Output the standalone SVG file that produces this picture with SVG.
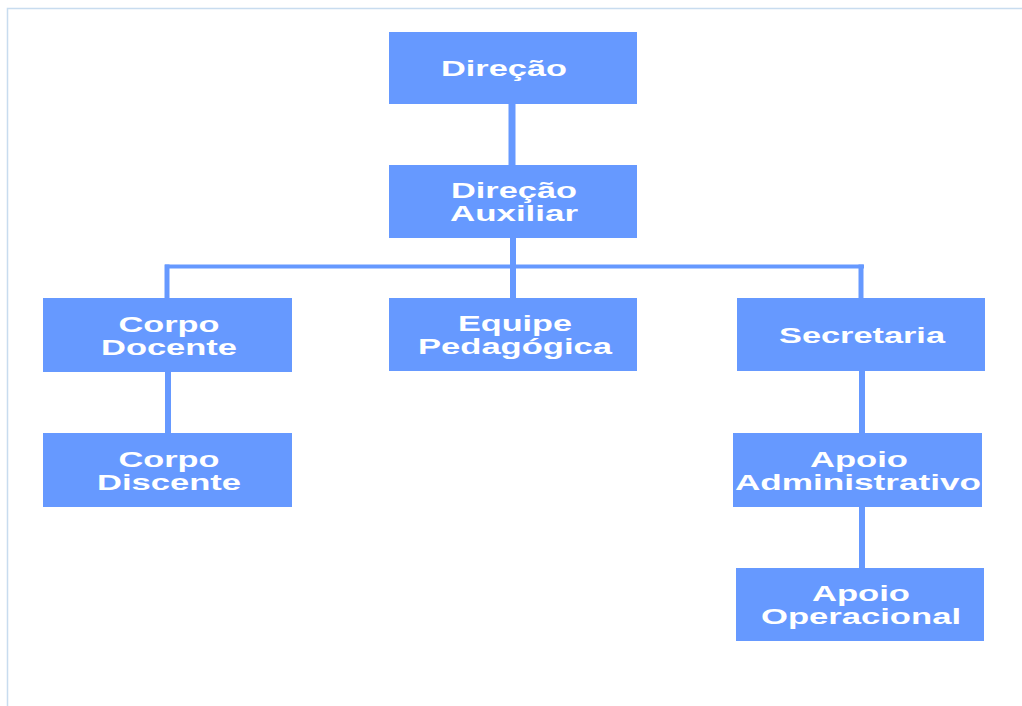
<svg xmlns="http://www.w3.org/2000/svg" width="1022" height="706" viewBox="0 0 1022 706">
<style>
.box{fill:#6699ff;}
.lbl{font-family:"Liberation Sans",Arial,sans-serif;font-weight:bold;font-size:22.5px;fill:#ffffff;text-anchor:middle;}
.con{stroke:#6699ff;fill:none;stroke-linecap:butt;}
</style>
<rect x="0" y="0" width="1022" height="706" fill="#ffffff"/>
<path d="M7.5,706 V8.5 H1022" fill="none" stroke="#c8dcef" stroke-width="1.5"/>
<g id="connectors">
<line class="con" x1="512" y1="104" x2="512" y2="165" stroke-width="7"/>
<line class="con" x1="513" y1="238" x2="513" y2="298" stroke-width="6"/>
<line class="con" x1="165" y1="266.5" x2="864" y2="266.5" stroke-width="4"/>
<line class="con" x1="167" y1="264.5" x2="167" y2="298" stroke-width="5"/>
<line class="con" x1="861" y1="264.5" x2="861" y2="298" stroke-width="5"/>
<line class="con" x1="168" y1="372" x2="168" y2="433" stroke-width="6"/>
<line class="con" x1="862" y1="371" x2="862" y2="433" stroke-width="6"/>
<line class="con" x1="862" y1="507" x2="862" y2="568" stroke-width="6"/>
</g>
<g id="n_direcao">
<rect class="box" x="389" y="32" width="248" height="72"/>
<text class="lbl" x="504" y="76" textLength="126" lengthAdjust="spacingAndGlyphs">Direção</text>
</g>
<g id="n_direcao_aux">
<rect class="box" x="389" y="165" width="248" height="73"/>
<text class="lbl" x="514" y="197.5" textLength="126" lengthAdjust="spacingAndGlyphs">Direção</text>
<text class="lbl" x="514" y="220.5" textLength="128" lengthAdjust="spacingAndGlyphs">Auxiliar</text>
</g>
<g id="n_corpo_docente">
<rect class="box" x="43" y="298" width="249" height="74"/>
<text class="lbl" x="169" y="331.5" textLength="101" lengthAdjust="spacingAndGlyphs">Corpo</text>
<text class="lbl" x="169" y="354.5" textLength="136" lengthAdjust="spacingAndGlyphs">Docente</text>
</g>
<g id="n_equipe">
<rect class="box" x="389" y="298" width="248" height="73"/>
<text class="lbl" x="515" y="330.5" textLength="114" lengthAdjust="spacingAndGlyphs">Equipe</text>
<text class="lbl" x="515" y="353.5" textLength="194" lengthAdjust="spacingAndGlyphs">Pedagógica</text>
</g>
<g id="n_secretaria">
<rect class="box" x="737" y="298" width="248" height="73"/>
<text class="lbl" x="862" y="342.5" textLength="166" lengthAdjust="spacingAndGlyphs">Secretaria</text>
</g>
<g id="n_corpo_discente">
<rect class="box" x="43" y="433" width="249" height="74"/>
<text class="lbl" x="169" y="466.5" textLength="101" lengthAdjust="spacingAndGlyphs">Corpo</text>
<text class="lbl" x="169" y="489.5" textLength="144" lengthAdjust="spacingAndGlyphs">Discente</text>
</g>
<g id="n_apoio_adm">
<rect class="box" x="733" y="433" width="249" height="74"/>
<text class="lbl" x="859" y="466.5" textLength="98" lengthAdjust="spacingAndGlyphs">Apoio</text>
<text class="lbl" x="858" y="489.5" textLength="246" lengthAdjust="spacingAndGlyphs">Administrativo</text>
</g>
<g id="n_apoio_op">
<rect class="box" x="736" y="568" width="248" height="73"/>
<text class="lbl" x="861" y="600.5" textLength="98" lengthAdjust="spacingAndGlyphs">Apoio</text>
<text class="lbl" x="861" y="623.5" textLength="200" lengthAdjust="spacingAndGlyphs">Operacional</text>
</g>
</svg>
